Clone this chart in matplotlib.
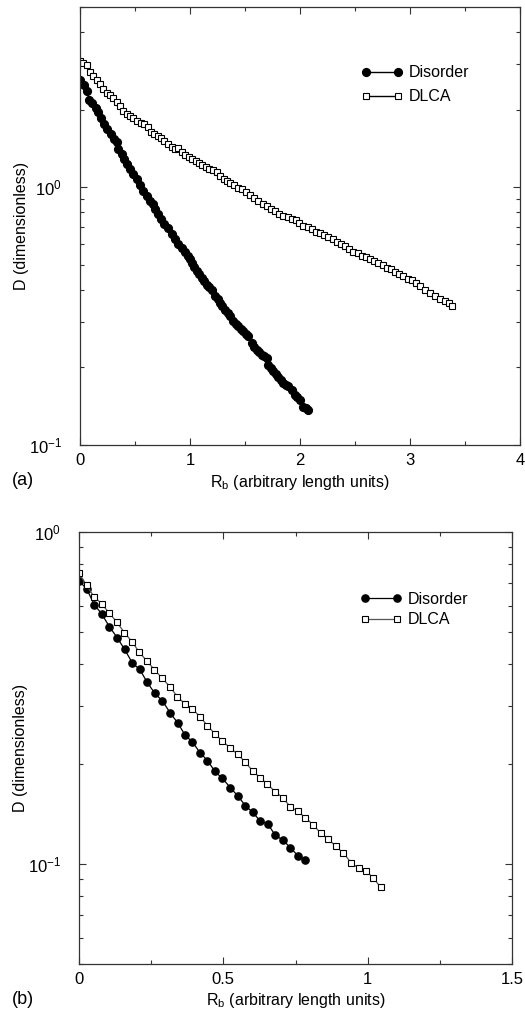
import matplotlib
matplotlib.use("Agg")
import matplotlib.pyplot as plt
from matplotlib.ticker import FixedLocator, LogLocator, NullFormatter, LogFormatterMathtext

plt.rcParams['font.family'] = ['Liberation Sans', 'DejaVu Sans']
plt.rcParams['mathtext.fontset'] = 'custom'
plt.rcParams['mathtext.rm'] = 'Liberation Sans'
plt.rcParams['mathtext.it'] = 'Liberation Sans:italic'
plt.rcParams['mathtext.bf'] = 'Liberation Sans:bold'

# panel (a) data
dis_a_x = [0.000, 0.032, 0.061, 0.082, 0.112, 0.143, 0.166, 0.191, 0.221, 0.248,
           0.279, 0.309, 0.334, 0.348, 0.379, 0.403, 0.425, 0.455, 0.485, 0.515,
           0.545, 0.575, 0.606, 0.636, 0.666, 0.682, 0.712, 0.736, 0.766, 0.797,
           0.834, 0.864, 0.894, 0.925, 0.950, 0.982, 1.000, 1.015, 1.038, 1.061,
           1.084, 1.106, 1.129, 1.152, 1.175, 1.197, 1.227, 1.250, 1.273, 1.295,
           1.318, 1.341, 1.364, 1.394, 1.416, 1.439, 1.462, 1.485, 1.507, 1.530,
           1.561, 1.584, 1.606, 1.629, 1.652, 1.675, 1.697, 1.712, 1.735, 1.757,
           1.780, 1.803, 1.825, 1.848, 1.871, 1.894, 1.925, 1.955, 1.977, 2.000,
           2.030, 2.055, 2.075]
dis_a_y = [2.616, 2.483, 2.357, 2.187, 2.118, 2.030, 1.954, 1.851, 1.759, 1.682,
           1.608, 1.538, 1.493, 1.406, 1.344, 1.285, 1.229, 1.175, 1.123, 1.074,
           1.018, 0.967, 0.925, 0.884, 0.859, 0.821, 0.785, 0.755, 0.718, 0.697,
           0.656, 0.628, 0.600, 0.582, 0.560, 0.541, 0.525, 0.509, 0.491, 0.473,
           0.459, 0.445, 0.432, 0.419, 0.410, 0.401, 0.378, 0.367, 0.356, 0.345,
           0.335, 0.325, 0.316, 0.302, 0.295, 0.289, 0.282, 0.276, 0.270, 0.264,
           0.249, 0.241, 0.234, 0.229, 0.224, 0.221, 0.218, 0.205, 0.199, 0.193,
           0.189, 0.184, 0.179, 0.174, 0.171, 0.169, 0.164, 0.157, 0.153, 0.150,
           0.141, 0.139, 0.137]

dlca_a_x = [0.000, 0.030, 0.061, 0.091, 0.121, 0.152, 0.182, 0.212, 0.243, 0.273,
            0.303, 0.334, 0.364, 0.394, 0.425, 0.455, 0.485, 0.515, 0.555, 0.585,
            0.621, 0.645, 0.675, 0.706, 0.736, 0.766, 0.803, 0.834, 0.864, 0.894,
            0.925, 0.955, 0.991, 1.021, 1.052, 1.082, 1.112, 1.143, 1.173, 1.205,
            1.241, 1.273, 1.305, 1.336, 1.368, 1.400, 1.432, 1.470, 1.509, 1.545,
            1.582, 1.621, 1.661, 1.697, 1.736, 1.773, 1.812, 1.848, 1.888, 1.925,
            1.964, 1.994, 2.030, 2.070, 2.106, 2.145, 2.182, 2.221, 2.257, 2.297,
            2.334, 2.373, 2.409, 2.448, 2.485, 2.525, 2.561, 2.600, 2.636, 2.675,
            2.712, 2.752, 2.788, 2.827, 2.864, 2.903, 2.939, 2.979, 3.015, 3.055,
            3.091, 3.136, 3.182, 3.227, 3.273, 3.318, 3.350, 3.379]
dlca_a_y = [3.093, 3.024, 2.983, 2.809, 2.711, 2.608, 2.516, 2.406, 2.321, 2.280,
            2.213, 2.136, 2.061, 1.981, 1.923, 1.894, 1.851, 1.811, 1.770, 1.759,
            1.708, 1.642, 1.608, 1.575, 1.547, 1.514, 1.470, 1.427, 1.406, 1.415,
            1.373, 1.333, 1.305, 1.285, 1.266, 1.240, 1.218, 1.193, 1.180, 1.164,
            1.141, 1.107, 1.079, 1.055, 1.041, 1.023, 0.997, 0.982, 0.954, 0.931,
            0.912, 0.884, 0.859, 0.846, 0.826, 0.809, 0.785, 0.773, 0.769, 0.751,
            0.744, 0.729, 0.707, 0.703, 0.686, 0.670, 0.662, 0.650, 0.641, 0.632,
            0.613, 0.600, 0.591, 0.577, 0.560, 0.554, 0.540, 0.538, 0.528, 0.517,
            0.506, 0.497, 0.487, 0.480, 0.470, 0.459, 0.452, 0.441, 0.435, 0.426,
            0.413, 0.401, 0.389, 0.378, 0.369, 0.361, 0.354, 0.345]

# panel (b) data
dis_b_x = [0.000, 0.027, 0.053, 0.079, 0.105, 0.132, 0.158, 0.185, 0.210, 0.236,
           0.262, 0.289, 0.315, 0.342, 0.367, 0.393, 0.420, 0.445, 0.471, 0.497,
           0.524, 0.551, 0.576, 0.602, 0.627, 0.654, 0.680, 0.707, 0.732, 0.758,
           0.784]
dis_b_y = [0.713, 0.673, 0.604, 0.566, 0.519, 0.481, 0.443, 0.403, 0.386, 0.353,
           0.327, 0.310, 0.286, 0.266, 0.245, 0.233, 0.216, 0.205, 0.190, 0.181,
           0.170, 0.160, 0.150, 0.143, 0.135, 0.132, 0.122, 0.118, 0.112, 0.106,
           0.103]

dlca_b_x = [0.000, 0.026, 0.052, 0.078, 0.103, 0.130, 0.157, 0.184, 0.209, 0.235,
            0.261, 0.288, 0.315, 0.341, 0.366, 0.393, 0.419, 0.445, 0.470, 0.496,
            0.523, 0.550, 0.575, 0.601, 0.627, 0.652, 0.680, 0.707, 0.731, 0.758,
            0.784, 0.812, 0.837, 0.864, 0.889, 0.916, 0.942, 0.969, 0.995, 1.019,
            1.045]
dlca_b_y = [0.752, 0.692, 0.638, 0.609, 0.572, 0.537, 0.498, 0.467, 0.434, 0.409,
            0.385, 0.363, 0.342, 0.319, 0.304, 0.293, 0.278, 0.261, 0.247, 0.235,
            0.224, 0.214, 0.203, 0.191, 0.182, 0.174, 0.165, 0.158, 0.149, 0.144,
            0.138, 0.131, 0.124, 0.119, 0.113, 0.108, 0.101, 0.097, 0.095, 0.091,
            0.085]

fig = plt.figure(figsize=(5.25, 10.13), dpi=100)
ax_a = fig.add_axes([0.1524, 0.5607, 0.8381, 0.4324])
ax_b = fig.add_axes([0.1505, 0.0484, 0.8248, 0.4264])


def style_axes(ax):
    ax.set_yscale('log')
    for sp in ax.spines.values():
        sp.set_linewidth(0.9)
        sp.set_color('#333333')
    ax.tick_params(which='both', direction='in', top=True, right=True,
                   color='#333333', width=0.8, labelsize=12)
    ax.tick_params(which='major', length=5)
    ax.tick_params(which='minor', length=3)
    ax.tick_params(axis='y', which='both', pad=13)
    ax.tick_params(axis='x', which='both', pad=6)
    ax.yaxis.set_major_locator(FixedLocator([0.1, 1.0]))
    ax.yaxis.set_major_formatter(LogFormatterMathtext())
    ax.yaxis.set_minor_locator(LogLocator(base=10, subs=range(2, 10)))
    ax.yaxis.set_minor_formatter(NullFormatter())
    ax.set_xlabel(r'R$_\mathrm{b}$ (arbitrary length units)', fontsize=11.5, labelpad=3)
    ax.set_ylabel('D (dimensionless)', fontsize=11.5, labelpad=0)


# (a)
ax_a.plot(dis_a_x, dis_a_y, '-', color='black', lw=1, marker='o', ms=5.6,
          mfc='black', mec='black', label='Disorder')
ax_a.plot(dlca_a_x, dlca_a_y, '-', color='black', lw=1, marker='s', ms=4.4,
          mfc='white', mec='black', mew=0.8, label='DLCA')
style_axes(ax_a)
ax_a.set_xlim(0, 4)
ax_a.set_ylim(0.1, 5)
ax_a.set_xticks([0, 1, 2, 3, 4])
ax_a.set_xticks([0.5, 1.5, 2.5, 3.5], minor=True)
ax_a.set_xticklabels(['0', '1', '2', '3', '4'])
ax_a.legend(loc='upper left', bbox_to_anchor=(0.62, 0.885), frameon=False,
            numpoints=2, handlelength=2.6, fontsize=11.5, borderpad=0,
            labelspacing=0.55, handletextpad=0.4)

# (b)
ax_b.plot(dis_b_x, dis_b_y, '-', color='black', lw=0.9, marker='o', ms=5.2,
          mfc='black', mec='black', label='Disorder')
ax_b.plot(dlca_b_x, dlca_b_y, '-', color='#555555', lw=0.9, marker='s', ms=4.0,
          mfc='white', mec='black', mew=0.8, label='DLCA')
style_axes(ax_b)
ax_b.set_xlim(0, 1.5)
ax_b.set_ylim(0.05, 1.0)
ax_b.set_xticks([0, 0.5, 1, 1.5])
ax_b.set_xticks([0.25, 0.75, 1.25], minor=True)
ax_b.set_xticklabels(['0', '0.5', '1', '1.5'])
ax_b.legend(loc='upper left', bbox_to_anchor=(0.63, 0.88), frameon=False,
            numpoints=2, handlelength=2.6, fontsize=11.5, borderpad=0,
            labelspacing=0.35, handletextpad=0.4)

fig.text(23 / 525, 1 - 480 / 1013, '(a)', fontsize=13, ha='center', va='center')
fig.text(23 / 525, 1 - 999 / 1013, '(b)', fontsize=13, ha='center', va='center')

fig.savefig('out.png', dpi=100)
